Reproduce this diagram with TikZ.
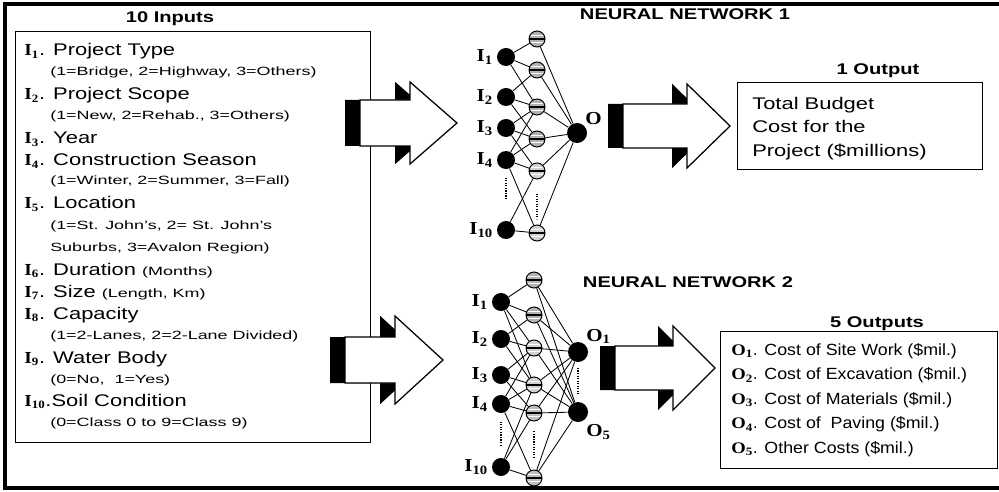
\documentclass[tikz,border=0pt]{standalone}
\usepackage{fontspec}
\setmainfont{Liberation Sans}[FakeStretch=1.3]
\newfontfamily\subfont{Liberation Sans}[FakeStretch=1.5, Ligatures=TeX]
\newfontfamily\listfont{Liberation Sans}[FakeStretch=1.1, Ligatures=TeX]
\newfontfamily\labfont{Liberation Serif}[FakeStretch=1.15]
\usetikzlibrary{positioning, shadows}

\newcommand{\sm}{\subfont\fontsize{8.5}{10}\selectfont}
\newcommand{\lab}[2]{{\labfont\bfseries #1\textsubscript{#2}}}

\begin{document}
\begin{tikzpicture}[
    x=0.025cm, y=-0.025cm,
    frame/.style={line width=2.8pt},
    box/.style={draw, line width=0.9pt, anchor=north west, inner sep=0},
    blk/.style={draw, fill=white, line width=0.9pt, line join=miter,
                general shadow={fill=black, shadow xshift=-10.5pt}},
    item/.style={anchor=base west, inner sep=0, font=\fontsize{12}{14}\selectfont},
    subitem/.style={anchor=base west, inner sep=0, font=\sm},
    head/.style={anchor=base, inner sep=0, font=\bfseries\fontsize{11}{13}\selectfont},
    lbl/.style={inner sep=0.5pt, font=\labfont\bfseries\fontsize{13}{15}\selectfont},
    inp/.style={circle, fill=black, inner sep=0, minimum size=0.45cm},
    outn/.style={circle, fill=black, inner sep=0, minimum size=0.5cm},
    hid/.style={circle, draw, line width=0.7pt, fill=gray!60, inner sep=0, minimum size=0.4cm,
                path picture={
                  \draw[line width=1pt] (path picture bounding box.west) -- (path picture bounding box.east);
                  \draw[white, line width=0.6pt] ([yshift=2.2pt]path picture bounding box.west) -- ([yshift=2.2pt]path picture bounding box.east);
                  \draw[white, line width=0.6pt] ([yshift=-2.2pt]path picture bounding box.west) -- ([yshift=-2.2pt]path picture bounding box.east);
                }},
    net/.style={line width=0.6pt},
    dots/.style={densely dotted, line width=0.8pt},
]
\useasboundingbox (0,0) rectangle (999,492);
\draw[frame] (1005,4) -- (5,4) -- (5,488) -- (1005,488);

% inputs
\node[head] (inhead) at (170,23) {10 Inputs};
\node[box, minimum width=8.875cm, minimum height=10.275cm] (inbox) at (15,31) {};
\node[item] (t1) at (24,56) {\lab{I}{1}. Project Type};
\node[subitem] (t1s) at (50,76) {(1=Bridge, 2=Highway, 3=Others)};
\node[item] (t2) at (24,100) {\lab{I}{2}. Project Scope};
\node[subitem] (t2s) at (50,120) {(1=New, 2=Rehab., 3=Others)};
\node[item] (t3) at (24,144) {\lab{I}{3}. Year};
\node[item] (t4) at (24,166) {\lab{I}{4}. Construction Season};
\node[subitem] (t4s) at (50,185) {(1=Winter, 2=Summer, 3=Fall)};
\node[item] (t5) at (24,209) {\lab{I}{5}. Location};
\node[subitem] (t5s) at (50,229) {(1=St. John's, 2= St. John's};
\node[subitem] (t5t) at (50,251) {Suburbs, 3=Avalon Region)};
\node[item] (t6) at (24,275) {\lab{I}{6}. Duration {\sm (Months)}};
\node[item] (t7) at (24,297) {\lab{I}{7}. Size {\sm (Length, Km)}};
\node[item] (t8) at (24,319) {\lab{I}{8}. Capacity};
\node[subitem] (t8s) at (50,339) {(1=2-Lanes, 2=2-Lane Divided)};
\node[item] (t9) at (24,363) {\lab{I}{9}. Water Body};
\node[subitem] (t9s) at (50,383) {(0=No,\ \ 1=Yes)};
\node[item] (t10) at (24,406) {\lab{I}{10}.Soil Condition};
\node[subitem] (t10s) at (50,426) {(0=Class 0 to 9=Class 9)};

% outputs
\node[head] (o1head) at (878,75) {1 Output};
\node[box, minimum width=6.125cm, minimum height=2.175cm] (o1box) at (737,82) {};
\node[anchor=north west, inner sep=0, align=left, font=\fontsize{12}{16.7}\selectfont] (o1txt) at (752,97)
  {Total Budget\\Cost for the\\Project (\$millions)};
\node[head] (o2head) at (877,327) {5 Outputs};
\node[box, minimum width=6.925cm, minimum height=3.425cm] (o2box) at (720,331) {};
\node[anchor=north west, inner sep=0, align=left, font=\listfont\fontsize{11.5}{17.4}\selectfont] (o2txt) at (731,343)
  {\lab{O}{1}. Cost of Site Work (\$mil.)\\
   \lab{O}{2}. Cost of Excavation (\$mil.)\\
   \lab{O}{3}. Cost of Materials (\$mil.)\\
   \lab{O}{4}. Cost of\ \ Paving (\$mil.)\\
   \lab{O}{5}. Other Costs (\$mil.)};

% block arrows
\draw[blk] (360,100) -- (410,100) -- (410,82) -- (457,123) -- (410,164) -- (410,146) -- (360,146) -- cycle;
\draw[blk] (345,337) -- (395,337) -- (395,316) -- (443,360) -- (395,404) -- (395,383) -- (345,383) -- cycle;
\draw[blk] (623,104) -- (687,104) -- (687,84) -- (730,126) -- (687,168) -- (687,148) -- (623,148) -- cycle;
\draw[blk] (615,346) -- (673,346) -- (673,326) -- (715,368) -- (673,410) -- (673,390) -- (615,390) -- cycle;

% neural network 1
\node[head] (nn1head) at (685,20) {NEURAL NETWORK 1};
\foreach \k/\y in {1/57, 2/97, 3/128, 4/160, 10/230} {
  \node[inp] (n1i\k) at (506,\y) {};
  \node[lbl, left=2pt of n1i\k] (n1l\k) {I\textsubscript{\k}};
}
\foreach \k/\y/\g in {1/39/60, 2/70/60, 3/107/60, 4/139/60, 5/171/35, 6/233/35}
  \node[hid, fill=gray!\g] (n1h\k) at (537,\y) {};
\node[outn] (n1o) at (577,133) {};
\node[lbl, above right=0pt of n1o] (n1ol) {O};
\foreach \i/\h in {1/1, 1/2, 1/3, 2/2, 2/3, 2/4, 3/3, 3/4, 3/5, 4/3, 4/4, 4/5, 4/6, 10/5, 10/6}
  \draw[net] (n1i\i) -- (n1h\h);
\foreach \h in {1,...,6}
  \draw[net] (n1h\h) -- (n1o);
\draw[dots, shorten <=6pt, shorten >=16pt] (n1i4) -- (n1i10);
\draw[dots, shorten <=10pt, shorten >=4pt] (n1h5) -- (n1h6);

% neural network 2
\node[head] (nn2head) at (688,287) {NEURAL NETWORK 2};
\foreach \k/\y in {1/302, 2/339, 3/375, 4/404, 10/467} {
  \node[inp] (n2i\k) at (501,\y) {};
  \node[lbl, left=2pt of n2i\k] (n2l\k) {I\textsubscript{\k}};
}
\foreach \k/\y/\g in {1/280/60, 2/315/60, 3/348/35, 4/385/35, 5/413/50, 6/478/50}
  \node[hid, fill=gray!\g] (n2h\k) at (534,\y) {};
\node[outn] (n2o1) at (578,352) {};
\node[outn] (n2o5) at (578,412) {};
\node[lbl, above right=0pt of n2o1] (n2ol1) {O\textsubscript{1}};
\node[lbl, below right=3pt and 0pt of n2o5] (n2ol5) {O\textsubscript{5}};
\foreach \i/\h in {1/1, 1/2, 1/3, 1/4, 2/2, 2/3, 2/4, 3/3, 3/4, 3/5, 4/3, 4/4, 4/5, 4/6, 10/4, 10/5, 10/6}
  \draw[net] (n2i\i) -- (n2h\h);
\foreach \h in {1,...,6} {
  \draw[net] (n2h\h) -- (n2o1);
  \draw[net] (n2h\h) -- (n2o5);
}
\draw[dots, shorten <=6pt, shorten >=8pt] (n2i4) -- (n2i10);
\draw[dots, shorten <=7pt, shorten >=8pt] (n2h5) -- (n2h6);
\draw[dots, shorten <=4pt, shorten >=6pt] (n2o1) -- (n2o5);
\end{tikzpicture}
\end{document}
